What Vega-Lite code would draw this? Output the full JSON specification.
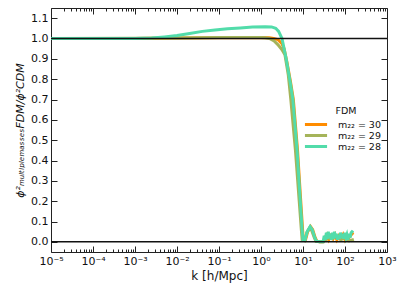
{
  "$schema": "https://vega.github.io/schema/vega-lite/v6.json",
  "width": 336,
  "height": 244,
  "autosize": {"type": "none"},
  "padding": {"left": 51, "top": 8, "right": 20, "bottom": 39},
  "background": "white",
  "config": {
    "view": {"stroke": "#222", "strokeWidth": 1},
    "font": "DejaVu Sans",
    "axis": {"domain": false, "grid": false, "tickColor": "#222", "labelColor": "#111", "titleColor": "#111", "labelFont": "DejaVu Sans", "titleFont": "DejaVu Sans", "labelFontSize": 11, "titleFontSize": 12, "titleFontWeight": "normal"},
    "legend": {"labelFont": "DejaVu Sans", "titleFont": "DejaVu Sans"}
  },
  "datasets": {
    "curves": [
      {"s": "m₂₂ = 30", "k": 1e-5, "v": 1.0},
      {"s": "m₂₂ = 30", "k": 1e-3, "v": 1.0},
      {"s": "m₂₂ = 30", "k": 1e-2, "v": 1.002},
      {"s": "m₂₂ = 30", "k": 0.1, "v": 1.004},
      {"s": "m₂₂ = 30", "k": 1.0, "v": 1.005},
      {"s": "m₂₂ = 30", "k": 1.585, "v": 1.004},
      {"s": "m₂₂ = 30", "k": 1.995, "v": 1.0},
      {"s": "m₂₂ = 30", "k": 2.512, "v": 0.995},
      {"s": "m₂₂ = 30", "k": 3.162, "v": 0.975},
      {"s": "m₂₂ = 30", "k": 3.548, "v": 0.95},
      {"s": "m₂₂ = 30", "k": 4.169, "v": 0.88},
      {"s": "m₂₂ = 30", "k": 5.012, "v": 0.79},
      {"s": "m₂₂ = 30", "k": 5.888, "v": 0.7},
      {"s": "m₂₂ = 30", "k": 7.413, "v": 0.45},
      {"s": "m₂₂ = 30", "k": 8.71, "v": 0.22},
      {"s": "m₂₂ = 30", "k": 9.772, "v": 0.06},
      {"s": "m₂₂ = 30", "k": 10.2, "v": 0.01},
      {"s": "m₂₂ = 30", "k": 11.5, "v": 0.01},
      {"s": "m₂₂ = 30", "k": 12.9, "v": 0.05},
      {"s": "m₂₂ = 30", "k": 15.1, "v": 0.075},
      {"s": "m₂₂ = 30", "k": 17.0, "v": 0.06},
      {"s": "m₂₂ = 30", "k": 19.5, "v": 0.02},
      {"s": "m₂₂ = 30", "k": 21.4, "v": 0.003},
      {"s": "m₂₂ = 30", "k": 25.1, "v": 0.0},
      {"s": "m₂₂ = 30", "k": 30.2, "v": 0.0},
      {"s": "m₂₂ = 30", "k": 33, "v": 0.02},
      {"s": "m₂₂ = 30", "k": 37, "v": 0.035},
      {"s": "m₂₂ = 30", "k": 41, "v": 0.01},
      {"s": "m₂₂ = 30", "k": 46, "v": 0.03},
      {"s": "m₂₂ = 30", "k": 52, "v": 0.015},
      {"s": "m₂₂ = 30", "k": 58, "v": 0.035},
      {"s": "m₂₂ = 30", "k": 64, "v": 0.01},
      {"s": "m₂₂ = 30", "k": 72, "v": 0.03},
      {"s": "m₂₂ = 30", "k": 80, "v": 0.015},
      {"s": "m₂₂ = 30", "k": 90, "v": 0.035},
      {"s": "m₂₂ = 30", "k": 100, "v": 0.01},
      {"s": "m₂₂ = 30", "k": 112, "v": 0.03},
      {"s": "m₂₂ = 30", "k": 125, "v": 0.02},
      {"s": "m₂₂ = 30", "k": 140, "v": 0.035},
      {"s": "m₂₂ = 30", "k": 150, "v": 0.04},
      {"s": "m₂₂ = 30", "k": 155, "v": 0.035},

      {"s": "m₂₂ = 29", "k": 1e-5, "v": 1.0},
      {"s": "m₂₂ = 29", "k": 1e-3, "v": 1.001},
      {"s": "m₂₂ = 29", "k": 1e-2, "v": 1.003},
      {"s": "m₂₂ = 29", "k": 0.1, "v": 1.005},
      {"s": "m₂₂ = 29", "k": 1.0, "v": 1.005},
      {"s": "m₂₂ = 29", "k": 1.259, "v": 1.004},
      {"s": "m₂₂ = 29", "k": 1.585, "v": 1.0},
      {"s": "m₂₂ = 29", "k": 1.995, "v": 0.99},
      {"s": "m₂₂ = 29", "k": 2.512, "v": 0.97},
      {"s": "m₂₂ = 29", "k": 3.162, "v": 0.945},
      {"s": "m₂₂ = 29", "k": 3.715, "v": 0.92},
      {"s": "m₂₂ = 29", "k": 4.467, "v": 0.82},
      {"s": "m₂₂ = 29", "k": 5.129, "v": 0.7},
      {"s": "m₂₂ = 29", "k": 6.607, "v": 0.45},
      {"s": "m₂₂ = 29", "k": 8.128, "v": 0.2},
      {"s": "m₂₂ = 29", "k": 9.12, "v": 0.06},
      {"s": "m₂₂ = 29", "k": 9.55, "v": 0.01},
      {"s": "m₂₂ = 29", "k": 11.0, "v": 0.005},
      {"s": "m₂₂ = 29", "k": 12.3, "v": 0.045},
      {"s": "m₂₂ = 29", "k": 14.5, "v": 0.07},
      {"s": "m₂₂ = 29", "k": 16.2, "v": 0.055},
      {"s": "m₂₂ = 29", "k": 18.6, "v": 0.02},
      {"s": "m₂₂ = 29", "k": 20.4, "v": 0.002},
      {"s": "m₂₂ = 29", "k": 25, "v": 0.0},
      {"s": "m₂₂ = 29", "k": 30, "v": 0.0},
      {"s": "m₂₂ = 29", "k": 35, "v": 0.01},
      {"s": "m₂₂ = 29", "k": 40, "v": 0.02},
      {"s": "m₂₂ = 29", "k": 50, "v": 0.015},
      {"s": "m₂₂ = 29", "k": 60, "v": 0.025},
      {"s": "m₂₂ = 29", "k": 80, "v": 0.01},
      {"s": "m₂₂ = 29", "k": 100, "v": 0.02},
      {"s": "m₂₂ = 29", "k": 125, "v": 0.005},
      {"s": "m₂₂ = 29", "k": 150, "v": 0.01},
      {"s": "m₂₂ = 29", "k": 155, "v": 0.0},

      {"s": "m₂₂ = 28", "k": 1e-5, "v": 1.0},
      {"s": "m₂₂ = 28", "k": 1e-4, "v": 1.0},
      {"s": "m₂₂ = 28", "k": 1e-3, "v": 1.0},
      {"s": "m₂₂ = 28", "k": 2.5e-3, "v": 1.002},
      {"s": "m₂₂ = 28", "k": 5e-3, "v": 1.008},
      {"s": "m₂₂ = 28", "k": 1e-2, "v": 1.015},
      {"s": "m₂₂ = 28", "k": 2e-2, "v": 1.025},
      {"s": "m₂₂ = 28", "k": 4e-2, "v": 1.035},
      {"s": "m₂₂ = 28", "k": 8e-2, "v": 1.042},
      {"s": "m₂₂ = 28", "k": 0.16, "v": 1.048},
      {"s": "m₂₂ = 28", "k": 0.32, "v": 1.052},
      {"s": "m₂₂ = 28", "k": 0.63, "v": 1.056},
      {"s": "m₂₂ = 28", "k": 1.26, "v": 1.058},
      {"s": "m₂₂ = 28", "k": 1.78, "v": 1.057},
      {"s": "m₂₂ = 28", "k": 2.24, "v": 1.05},
      {"s": "m₂₂ = 28", "k": 2.63, "v": 1.035},
      {"s": "m₂₂ = 28", "k": 3.16, "v": 1.0},
      {"s": "m₂₂ = 28", "k": 3.98, "v": 0.9},
      {"s": "m₂₂ = 28", "k": 5.01, "v": 0.78},
      {"s": "m₂₂ = 28", "k": 5.75, "v": 0.7},
      {"s": "m₂₂ = 28", "k": 7.24, "v": 0.45},
      {"s": "m₂₂ = 28", "k": 8.51, "v": 0.22},
      {"s": "m₂₂ = 28", "k": 9.55, "v": 0.06},
      {"s": "m₂₂ = 28", "k": 10.0, "v": 0.01},
      {"s": "m₂₂ = 28", "k": 11.2, "v": 0.01},
      {"s": "m₂₂ = 28", "k": 12.6, "v": 0.05},
      {"s": "m₂₂ = 28", "k": 14.8, "v": 0.075},
      {"s": "m₂₂ = 28", "k": 16.6, "v": 0.06},
      {"s": "m₂₂ = 28", "k": 19.1, "v": 0.02},
      {"s": "m₂₂ = 28", "k": 20.9, "v": 0.003},
      {"s": "m₂₂ = 28", "k": 25.1, "v": 0.0},
      {"s": "m₂₂ = 28", "k": 30.2, "v": 0.0},
      {"s": "m₂₂ = 28", "k": 32, "v": 0.03},
      {"s": "m₂₂ = 28", "k": 34, "v": 0.01},
      {"s": "m₂₂ = 28", "k": 36, "v": 0.045},
      {"s": "m₂₂ = 28", "k": 38, "v": 0.015},
      {"s": "m₂₂ = 28", "k": 40, "v": 0.05},
      {"s": "m₂₂ = 28", "k": 42, "v": 0.02},
      {"s": "m₂₂ = 28", "k": 45, "v": 0.04},
      {"s": "m₂₂ = 28", "k": 47, "v": 0.01},
      {"s": "m₂₂ = 28", "k": 50, "v": 0.045},
      {"s": "m₂₂ = 28", "k": 53, "v": 0.015},
      {"s": "m₂₂ = 28", "k": 56, "v": 0.05},
      {"s": "m₂₂ = 28", "k": 59, "v": 0.02},
      {"s": "m₂₂ = 28", "k": 62, "v": 0.04},
      {"s": "m₂₂ = 28", "k": 66, "v": 0.01},
      {"s": "m₂₂ = 28", "k": 70, "v": 0.035},
      {"s": "m₂₂ = 28", "k": 74, "v": 0.015},
      {"s": "m₂₂ = 28", "k": 78, "v": 0.045},
      {"s": "m₂₂ = 28", "k": 83, "v": 0.02},
      {"s": "m₂₂ = 28", "k": 88, "v": 0.04},
      {"s": "m₂₂ = 28", "k": 93, "v": 0.015},
      {"s": "m₂₂ = 28", "k": 99, "v": 0.045},
      {"s": "m₂₂ = 28", "k": 105, "v": 0.02},
      {"s": "m₂₂ = 28", "k": 111, "v": 0.035},
      {"s": "m₂₂ = 28", "k": 118, "v": 0.01},
      {"s": "m₂₂ = 28", "k": 125, "v": 0.04},
      {"s": "m₂₂ = 28", "k": 132, "v": 0.02},
      {"s": "m₂₂ = 28", "k": 140, "v": 0.045},
      {"s": "m₂₂ = 28", "k": 148, "v": 0.05},
      {"s": "m₂₂ = 28", "k": 155, "v": 0.055}
    ],
    "hlines": [{"h": 0}, {"h": 1}]
  },
  "layer": [
    {
      "data": {"name": "curves"},
      "mark": {"type": "line", "strokeWidth": 3, "strokeCap": "butt", "clip": true},
      "encoding": {
        "x": {
          "field": "k", "type": "quantitative",
          "scale": {"type": "log", "domain": [1e-5, 1000], "nice": false},
          "axis": {
            "orient": "bottom",
            "title": "k [h/Mpc]",
            "values": [1e-5, 1e-4, 1e-3, 1e-2, 0.1, 1, 10, 100, 1000],
            "labelExpr": "datum.value < 5e-5 ? '10⁻⁵' : datum.value < 5e-4 ? '10⁻⁴' : datum.value < 5e-3 ? '10⁻³' : datum.value < 5e-2 ? '10⁻²' : datum.value < 0.5 ? '10⁻¹' : datum.value < 5 ? '10⁰' : datum.value < 50 ? '10¹' : datum.value < 500 ? '10²' : '10³'",
            "tickSize": -6,
            "labelPadding": 9,
            "labelFlush": false,
            "labelOverlap": false,
            "titlePadding": 4
          }
        },
        "y": {
          "field": "v", "type": "quantitative",
          "scale": {"domain": [-0.05, 1.15], "nice": false, "zero": false},
          "axis": {
            "orient": "left",
            "title": "ϕ²ₘᵤₗₜᵢₚₗₑₘₐₛₛₑₛFDM/ϕ²CDM",
            "titleFontStyle": "italic",
            "titleFontSize": 11,
            "values": [0, 0.1, 0.2, 0.3, 0.4, 0.5, 0.6, 0.7, 0.8, 0.9, 1.0, 1.1],
            "format": ".1f",
            "tickSize": -6,
            "labelPadding": 9,
            "labelFlush": false,
            "labelOverlap": false,
            "titlePadding": 5
          }
        },
        "color": {
          "field": "s", "type": "nominal",
          "scale": {"domain": ["m₂₂ = 30", "m₂₂ = 29", "m₂₂ = 28"], "range": ["#ff8c00", "#a5b45a", "#52dcaa"]},
          "legend": {
            "orient": "none",
            "legendX": 260,
            "legendY": 98,
            "title": "FDM",
            "titleAnchor": "middle",
            "titleFontSize": 9.5,
            "titleFontWeight": "normal",
            "titleColor": "#111",
            "titlePadding": 4,
            "labelFontSize": 9.5,
            "labelColor": "#111",
            "symbolType": "M-3.5,0H3.5",
            "symbolSize": 40,
            "symbolStrokeWidth": 3,
            "labelOffset": 17,
            "rowPadding": -1.5
          }
        }
      }
    },
    {
      "data": {"name": "hlines"},
      "mark": {"type": "rule", "color": "#111", "strokeWidth": 1.5},
      "encoding": {
        "y": {
          "field": "h", "type": "quantitative",
          "axis": {
            "orient": "right",
            "title": null,
            "labels": false,
            "values": [0, 0.1, 0.2, 0.3, 0.4, 0.5, 0.6, 0.7, 0.8, 0.9, 1.0, 1.1],
            "tickSize": -6
          }
        }
      }
    },
    {
      "data": {"name": "curves"},
      "mark": {"type": "line", "strokeOpacity": 0},
      "encoding": {
        "x": {
          "field": "k", "type": "quantitative",
          "axis": {"orient": "top", "title": null, "labels": false, "values": [1e-5, 1e-4, 1e-3, 1e-2, 0.1, 1, 10, 100, 1000], "tickSize": -6}
        },
        "y": {"field": "v", "type": "quantitative", "axis": null},
        "detail": {"field": "s"}
      }
    },
    {
      "data": {"name": "curves"},
      "mark": {"type": "line", "strokeOpacity": 0},
      "encoding": {
        "x": {
          "field": "k", "type": "quantitative",
          "axis": {"orient": "bottom", "title": null, "labels": false, "tickSize": -3,
            "values": [2e-5,3e-5,4e-5,5e-5,6e-5,7e-5,8e-5,9e-5,2e-4,3e-4,4e-4,5e-4,6e-4,7e-4,8e-4,9e-4,2e-3,3e-3,4e-3,5e-3,6e-3,7e-3,8e-3,9e-3,2e-2,3e-2,4e-2,5e-2,6e-2,7e-2,8e-2,9e-2,0.2,0.3,0.4,0.5,0.6,0.7,0.8,0.9,2,3,4,5,6,7,8,9,20,30,40,50,60,70,80,90,200,300,400,500,600,700,800,900]}
        },
        "y": {"field": "v", "type": "quantitative", "axis": null},
        "detail": {"field": "s"}
      }
    },
    {
      "data": {"name": "curves"},
      "mark": {"type": "line", "strokeOpacity": 0},
      "encoding": {
        "x": {
          "field": "k", "type": "quantitative",
          "axis": {"orient": "top", "title": null, "labels": false, "tickSize": -3,
            "values": [2e-5,3e-5,4e-5,5e-5,6e-5,7e-5,8e-5,9e-5,2e-4,3e-4,4e-4,5e-4,6e-4,7e-4,8e-4,9e-4,2e-3,3e-3,4e-3,5e-3,6e-3,7e-3,8e-3,9e-3,2e-2,3e-2,4e-2,5e-2,6e-2,7e-2,8e-2,9e-2,0.2,0.3,0.4,0.5,0.6,0.7,0.8,0.9,2,3,4,5,6,7,8,9,20,30,40,50,60,70,80,90,200,300,400,500,600,700,800,900]}
        },
        "y": {"field": "v", "type": "quantitative", "axis": null},
        "detail": {"field": "s"}
      }
    }
  ],
  "resolve": {"axis": {"x": "independent", "y": "independent"}}
}
